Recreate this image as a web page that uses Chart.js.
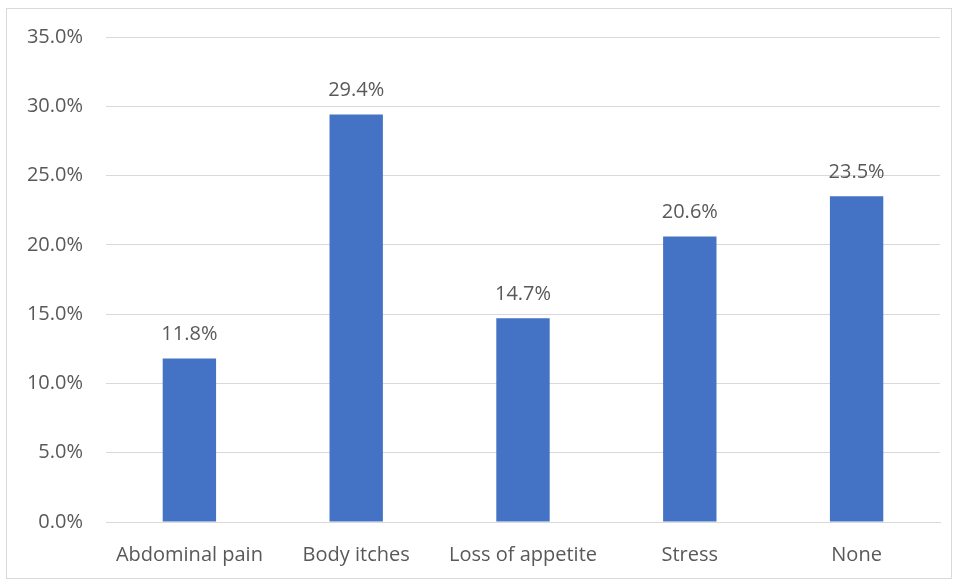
<!DOCTYPE html>
<html>
<head>
<meta charset="utf-8">
<script src="https://cdn.jsdelivr.net/npm/chart.js@4/dist/chart.umd.min.js"></script>
<style>
  body { margin: 0; background: #fff; }
  #marco {
    position: absolute; left: 6px; top: 8px;
    width: 944px; height: 569px;
    border: 1px solid #d9d9d9;
  }
  #contenedor { position: absolute; left: 0; top: 0; width: 956px; height: 581px; }
</style>
</head>
<body>
<div id="marco"></div>
<div id="contenedor"><canvas id="grafica"></canvas></div>
<script>
const sintomas = ["Abdominal pain", "Body itches", "Loss of appetite", "Stress", "None"];
const porcentajes = [11.8, 29.4, 14.7, 20.6, 23.5];
const marcasEje = [0, 5, 10, 15, 20, 25, 30, 35];

const colorBarra = "#4472C4";
const colorTexto = "#595959";
const fuente = { family: "'Open Sans', sans-serif", size: 20 };

// etiquetas con el valor encima de cada barra
const etiquetasValor = {
  id: "etiquetasValor",
  afterDatasetsDraw(chart) {
    const ctx = chart.ctx;
    const meta = chart.getDatasetMeta(0);
    ctx.save();
    ctx.font = `${fuente.size}px ${fuente.family}`;
    ctx.fillStyle = colorTexto;
    ctx.textAlign = "center";
    ctx.textBaseline = "middle";
    meta.data.forEach((barra, i) => {
      ctx.fillText(`${porcentajes[i].toFixed(1)}%`, barra.x, barra.y - 24);
    });
    ctx.restore();
  },
};

const configuracion = {
  type: "bar",
  data: {
    labels: sintomas,
    datasets: [
      {
        data: porcentajes,
        backgroundColor: colorBarra,
        categoryPercentage: 1,
        barPercentage: 0.32,
      },
    ],
  },
  options: {
    responsive: false,
    animation: false,
    layout: { padding: { top: 37, right: 16, left: 0, bottom: 0 } },
    plugins: {
      legend: { display: false },
      tooltip: { enabled: false },
    },
    scales: {
      x: {
        grid: { display: false },
        border: { color: "#d9d9d9" },
        ticks: { color: colorTexto, font: fuente, padding: 13, maxRotation: 0 },
        afterFit: (eje) => { eje.height = 59; },
      },
      y: {
        min: 0,
        max: 35,
        afterBuildTicks: (eje) => { eje.ticks = marcasEje.map((v) => ({ value: v })); },
        grid: { color: "#d9d9d9", drawTicks: false },
        border: { display: false },
        ticks: {
          color: colorTexto,
          font: fuente,
          padding: 23,
          callback: (v) => `${Number(v).toFixed(1)}%`,
        },
        afterFit: (eje) => { eje.width = 106; },
      },
    },
  },
  plugins: [etiquetasValor],
};

const canvas = document.querySelector("#grafica");
canvas.width = 956;
canvas.height = 581;
const grafica = new Chart(canvas, configuracion);
</script>
</body>
</html>
